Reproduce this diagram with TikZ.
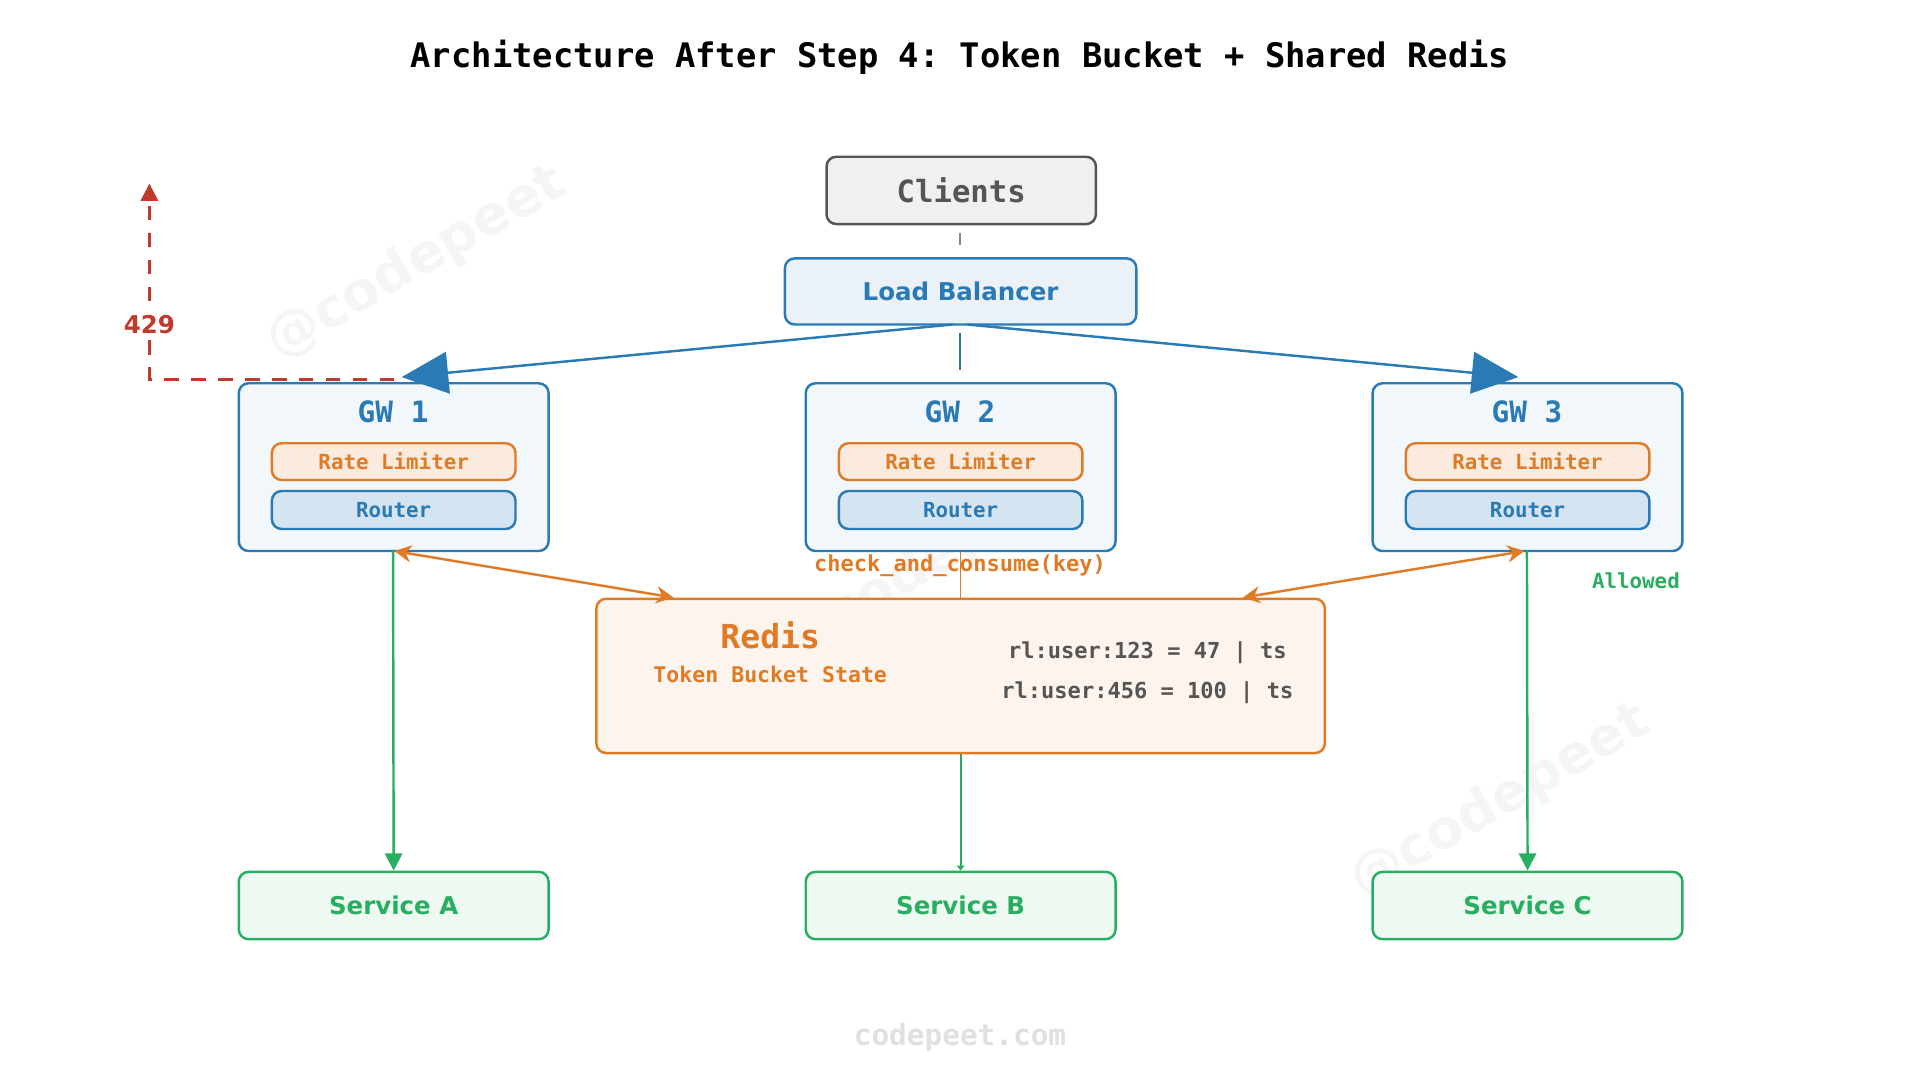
\documentclass[tikz,border=0pt]{standalone}
\usepackage{fontspec}
\setmainfont{DejaVu Sans}
\setmonofont{DejaVu Sans Mono}
\usetikzlibrary{arrows.meta}
\definecolor{cblue}{HTML}{2A7AB5}
\definecolor{corange}{HTML}{E07B25}
\definecolor{cgreen}{HTML}{27AE60}
\definecolor{cred}{HTML}{C0392B}
\definecolor{cgrey}{HTML}{555555}
\tikzset{every picture/.style={line width=0.75pt}}
\tikzset{
  box/.style={draw, rounded corners=4pt, line width=1pt, anchor=north west, inner sep=0pt},
  lbl/.style={font=\ttfamily\bfseries},
}
\begin{document}
\begin{tikzpicture}[x=0.5pt,y=0.5pt,yscale=-1,xscale=1]
\useasboundingbox (0,0) rectangle (1568,882);

%Watermarks
\foreach \wx/\wy in {340/215, 760/460, 1225/655}
  \node[text=black!4, font=\bfseries\fontsize{22}{22}\selectfont, rotate=30] (wm) at (\wx,\wy) {@codepeet};
\node[text=black!12, lbl, font=\ttfamily\bfseries\fontsize{12}{12}\selectfont] (footer) at (784,847) {codepeet.com};

% Title
\node[lbl, font=\ttfamily\bfseries\fontsize{13.8}{13.8}\selectfont] (title) at (784,47) {Architecture After Step 4: Token Bucket + Shared Redis};

% Clients and load balancer
\node[box, draw=cgrey, fill=black!6, minimum width=110pt, minimum height=27.5pt] (cl) at (674,127) {};
\node[lbl, text=cgrey, font=\ttfamily\bfseries\fontsize{12.5}{12.5}\selectfont] at (cl.center) {Clients};
\node[box, draw=cblue, fill=cblue!10, minimum width=143.5pt, minimum height=27pt] (lb) at (640,210) {};
\node[text=cblue, font=\bfseries\fontsize{10}{10}\selectfont] at (lb.center) {Load Balancer};
\draw[cgrey!70, line width=0.5pt] (784,190) -- (784,200);

% Gateways
\foreach \i/\gx in {1/194, 2/657, 3/1120} {
  \node[box, draw=cblue, fill=cblue!6, minimum width=126.5pt, minimum height=68.5pt] (gw\i) at (\gx,312) {};
  \node[lbl, text=cblue, font=\ttfamily\bfseries\fontsize{12}{12}\selectfont] (gwt\i) at (\gx+127,336) {GW \i};
  \node[box, draw=corange, fill=corange!15, minimum width=99.5pt, minimum height=15pt] (rl\i) at (\gx+27,361) {};
  \node[lbl, text=corange, font=\ttfamily\bfseries\fontsize{8.5}{8.5}\selectfont] at (rl\i.center) {Rate Limiter};
  \node[box, draw=cblue, fill=cblue!20, minimum width=99.5pt, minimum height=15.5pt] (rt\i) at (\gx+27,400) {};
  \node[lbl, text=cblue, font=\ttfamily\bfseries\fontsize{8.5}{8.5}\selectfont] at (rt\i.center) {Router};
}

% Redis
\node[box, draw=corange, fill=corange!8, minimum width=297.5pt, minimum height=63pt] (rd) at (486,488) {};
\node[lbl, text=corange, font=\ttfamily\bfseries\fontsize{13.5}{13.5}\selectfont] (rdt) at (629,519) {Redis};
\node[lbl, text=corange, font=\ttfamily\bfseries\fontsize{8.8}{8.8}\selectfont] (rds) at (629,551) {Token Bucket State};
\node[lbl, text=cgrey, font=\ttfamily\bfseries\fontsize{9}{9}\selectfont] (k1) at (937,533) {rl:user:123 = 47 | ts};
\node[lbl, text=cgrey, font=\ttfamily\bfseries\fontsize{9}{9}\selectfont] (k2) at (937,566) {rl:user:456 = 100 | ts};

% Services
\foreach \s/\sx in {A/194, B/657, C/1120} {
  \node[box, draw=cgreen, fill=cgreen!8, minimum width=126.5pt, minimum height=27.5pt] (sv\s) at (\sx,711) {};
  \node[text=cgreen, font=\bfseries\fontsize{10}{10}\selectfont] at (sv\s.center) {Service \s};
}

% LB to gateways
\coordinate (lbl) at (778,265);
\coordinate (lbr) at (790,265);
\coordinate (g1in) at (328,308);
\coordinate (g3in) at (1240,308);
\draw[cblue, line width=1pt, -{Triangle[length=19pt,width=17pt]}] (lbl) -- (g1in);
\draw[cblue, line width=1pt, -{Triangle[length=19pt,width=17pt]}] (lbr) -- (g3in);
\draw[cblue, line width=1pt] (784,272) -- (784,302);

% 429 rejection
\coordinate (rj) at (122,150);
\draw[cred, line width=1pt, dash pattern=on 6pt off 5pt, -{Triangle[length=7pt,width=7pt]}] (322,310) -- (122,310) -- (rj);
\node[text=cred, font=\bfseries\fontsize{10}{10}\selectfont, fill=white, inner sep=1pt] (c429) at (122,265) {429};

% Redis checks
\draw[corange, line width=1pt, {Stealth[length=7pt,width=7pt]}-{Stealth[length=7pt,width=7pt]}] (322,450) -- (550,488);
\draw[corange, line width=1pt, {Stealth[length=7pt,width=7pt]}-{Stealth[length=7pt,width=7pt]}] (1245,450) -- (1015,488);
\draw[corange, line width=0.6pt] (gw2.south) -- (rd.north);
\node[lbl, text=corange, font=\ttfamily\bfseries\fontsize{9}{9}\selectfont] (cc) at (784,462) {check\_and\_consume(key)};

% Allowed traffic
\coordinate (g1out) at (321,450);
\coordinate (g3out) at (1247,450);
\draw[cgreen, line width=1pt, -{Triangle[length=7pt,width=7pt]}] (g1out) -- (svA.north);
\draw[cgreen, line width=0.8pt, -{Triangle[length=2pt,width=3pt]}] (rd.south) -- (svB.north);
\draw[cgreen, line width=1pt, -{Triangle[length=7pt,width=7pt]}] (g3out) -- (svC.north);
\node[lbl, text=cgreen, font=\ttfamily\bfseries\fontsize{8.5}{8.5}\selectfont] (al) at (1336,474) {Allowed};
\end{tikzpicture}
\end{document}
